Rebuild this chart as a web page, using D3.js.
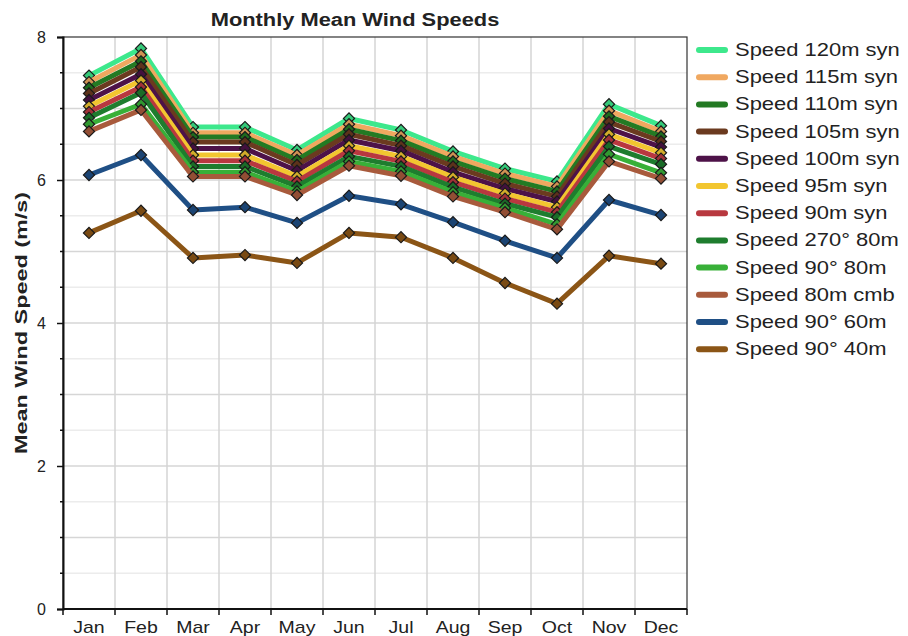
<!DOCTYPE html>
<head>
    <title>Monthly Mean Wind Speeds</title>
    <script src="https://cdn.jsdelivr.net/npm/d3@7"></script>
    <style type="text/css">
     body { margin: 0; background: #fff; }
     text { font-family: Arial, "Liberation Sans", sans-serif; fill: #222; }
    </style>
</head>
<body>
<script type="text/javascript">

 var months = ["Jan","Feb","Mar","Apr","May","Jun","Jul","Aug","Sep","Oct","Nov","Dec"];

 var names = ["Speed 120m syn","Speed 115m syn","Speed 110m syn","Speed 105m syn","Speed 100m syn",
              "Speed 95m syn","Speed 90m syn","Speed 270\u00b0 80m","Speed 90\u00b0 80m","Speed 80m cmb",
              "Speed 90\u00b0 60m","Speed 90\u00b0 40m"];

 var colors = ["#3de88c","#f0a860","#237a23","#6b3a1f","#4d1248",
               "#f2c630","#b8383f","#1e7d2e","#38b038","#a85a3c",
               "#1f4f85","#8b5516"];

 var s120 = [7.46, 7.84, 6.74, 6.74, 6.42, 6.86, 6.70, 6.40, 6.16, 5.98, 7.06, 6.76];
 var s115 = [7.37, 7.75, 6.66, 6.66, 6.35, 6.78, 6.62, 6.33, 6.09, 5.91, 6.97, 6.68];
 var s110 = [7.29, 7.66, 6.60, 6.60, 6.28, 6.71, 6.55, 6.26, 6.02, 5.84, 6.89, 6.61];
 var s105 = [7.21, 7.58, 6.53, 6.53, 6.21, 6.64, 6.48, 6.19, 5.95, 5.77, 6.81, 6.54];
 var s100 = [7.12, 7.48, 6.44, 6.44, 6.13, 6.56, 6.41, 6.11, 5.88, 5.70, 6.72, 6.46];
 var s95  = [7.03, 7.39, 6.35, 6.35, 6.05, 6.48, 6.33, 6.04, 5.81, 5.62, 6.64, 6.38];
 var s90  = [6.95, 7.30, 6.27, 6.27, 5.98, 6.41, 6.26, 5.97, 5.74, 5.55, 6.56, 6.30];
 var s270_80 = [6.87, 7.22, 6.19, 6.19, 5.91, 6.33, 6.19, 5.90, 5.67, 5.48, 6.47, 6.22];
 var s90_80  = [6.78, 7.06, 6.11, 6.11, 5.84, 6.26, 6.12, 5.83, 5.61, 5.38, 6.36, 6.10];
 var s80cmb  = [6.68, 6.98, 6.05, 6.05, 5.79, 6.20, 6.06, 5.77, 5.55, 5.31, 6.26, 6.02];
 var s60 = [6.07, 6.35, 5.58, 5.62, 5.40, 5.78, 5.66, 5.41, 5.15, 4.91, 5.72, 5.51];
 var s40 = [5.26, 5.57, 4.91, 4.95, 4.84, 5.26, 5.20, 4.91, 4.56, 4.27, 4.94, 4.83];

 var yTicks = [0, 2, 4, 6, 8];

 var allSeries = [s120, s115, s110, s105, s100, s95, s90, s270_80, s90_80, s80cmb, s60, s40];

 var w = 908, h = 636;
 var pLeft = 63, pRight = 687, pTop = 37, pBottom = 609;
 var stretch = 1.22;

 var svg = d3.select("body")
             .append("svg")
             .attr("width", w)
             .attr("height", h);

 var x = d3.scaleBand()
           .domain(months)
           .range([pLeft, pRight]);

 var y = d3.scaleLinear()
           .domain([0, 8])
           .range([pBottom, pTop]);

 // grid
 var halfSteps = d3.range(0.5, 8, 0.5);
 svg.append("g").selectAll("line")
    .data(halfSteps)
    .enter()
    .append("line")
    .attr("x1", pLeft).attr("x2", pRight)
    .attr("y1", function(d){ return y(d); })
    .attr("y2", function(d){ return y(d); })
    .attr("stroke", function(d){ return d % 1 == 0 ? "#d6d6d6" : "#ececec"; })
    .attr("stroke-width", 1.5);

 svg.append("g").selectAll("line")
    .data(months.slice(1))
    .enter()
    .append("line")
    .attr("x1", function(d){ return x(d); })
    .attr("x2", function(d){ return x(d); })
    .attr("y1", pTop).attr("y2", pBottom)
    .attr("stroke", "#d4d4d4")
    .attr("stroke-width", 1.5);

 // frame
 svg.append("rect")
    .attr("x", pLeft).attr("y", pTop)
    .attr("width", pRight - pLeft).attr("height", pBottom - pTop)
    .attr("fill", "none")
    .attr("stroke", "#333")
    .attr("stroke-width", 1.2);

 // y axis
 var yAxis = d3.axisLeft(y).tickValues(yTicks).tickSize(6).tickPadding(11).tickFormat(d3.format("d"));
 var yg = svg.append("g").attr("transform", "translate(" + pLeft + ",0)").call(yAxis);
 yg.select(".domain").attr("stroke", "#111").attr("stroke-width", 2);
 yg.selectAll(".tick line").attr("stroke", "#111").attr("stroke-width", 1.5);
 yg.selectAll(".tick text").attr("font-size", 16).attr("fill", "#222")
   .attr("font-family", "Arial, 'Liberation Sans', sans-serif");

 svg.append("g").selectAll("line")
    .data(halfSteps.filter(function(d){ return d % 2 != 0; }))
    .enter()
    .append("line")
    .attr("x1", pLeft - 3).attr("x2", pLeft)
    .attr("y1", function(d){ return y(d); })
    .attr("y2", function(d){ return y(d); })
    .attr("stroke", "#111")
    .attr("stroke-width", 1.5);

 // x axis
 var xg = svg.append("g").attr("transform", "translate(0," + pBottom + ")");
 xg.append("line")
   .attr("x1", pLeft).attr("x2", pRight)
   .attr("stroke", "#111").attr("stroke-width", 2);
 xg.selectAll(".xt")
   .data(months.concat(["end"]))
   .enter()
   .append("line")
   .attr("x1", function(d, i){ return i < 12 ? x(d) : pRight; })
   .attr("x2", function(d, i){ return i < 12 ? x(d) : pRight; })
   .attr("y1", 0).attr("y2", 6)
   .attr("stroke", "#111").attr("stroke-width", 1.5);
 xg.selectAll("text")
   .data(months)
   .enter()
   .append("text")
   .attr("transform", function(d){ return "translate(" + (x(d) + x.bandwidth() / 2) + ",24) scale(" + stretch + ",1)"; })
   .attr("text-anchor", "middle")
   .attr("font-size", 16)
   .text(function(d){ return d; });

 // lines + markers
 var line = d3.line()
              .x(function(d, i){ return x(months[i]) + x.bandwidth() / 2; })
              .y(function(d){ return y(d); });

 var diamond = d3.symbol().type(d3.symbolSquare).size(62);

 allSeries.forEach(function(s, k){
     var g = svg.append("g");
     g.append("path")
      .attr("d", line(s))
      .attr("fill", "none")
      .attr("stroke", colors[k])
      .attr("stroke-width", 5)
      .attr("stroke-linejoin", "round");
     g.selectAll("path.pt")
      .data(s)
      .enter()
      .append("path")
      .attr("class", "pt")
      .attr("d", diamond)
      .attr("transform", function(d, i){ return "translate(" + (x(months[i]) + x.bandwidth() / 2) + "," + y(d) + ") rotate(45)"; })
      .attr("fill", d3.color(colors[k]).darker(0.4))
      .attr("stroke", "#1a1a1a")
      .attr("stroke-width", 1.2);
 });

 // title
 svg.append("text")
    .attr("transform", "translate(355,26) scale(1.15,1)")
    .attr("text-anchor", "middle")
    .attr("font-size", 19)
    .attr("font-weight", "bold")
    .text("Monthly Mean Wind Speeds");

 // y label
 svg.append("text")
    .attr("transform", "translate(27,323) rotate(-90)")
    .attr("text-anchor", "middle")
    .attr("font-size", 17)
    .attr("font-weight", "bold")
    .attr("textLength", 262)
    .attr("lengthAdjust", "spacingAndGlyphs")
    .text("Mean Wind Speed (m/s)");

 // legend
 var leg = svg.append("g").selectAll("g")
              .data(names)
              .enter()
              .append("g")
              .attr("transform", function(d, i){ return "translate(697," + (50 + i * 27.2) + ")"; });
 leg.append("line")
    .attr("x1", 2).attr("x2", 28)
    .attr("stroke", function(d, i){ return colors[i]; })
    .attr("stroke-width", 6)
    .attr("stroke-linecap", "round");
 leg.append("text")
    .attr("transform", "translate(38,6) scale(" + stretch + ",1)")
    .attr("font-size", 18)
    .attr("fill", "#333")
    .text(function(d){ return d; });

</script>
</body>
